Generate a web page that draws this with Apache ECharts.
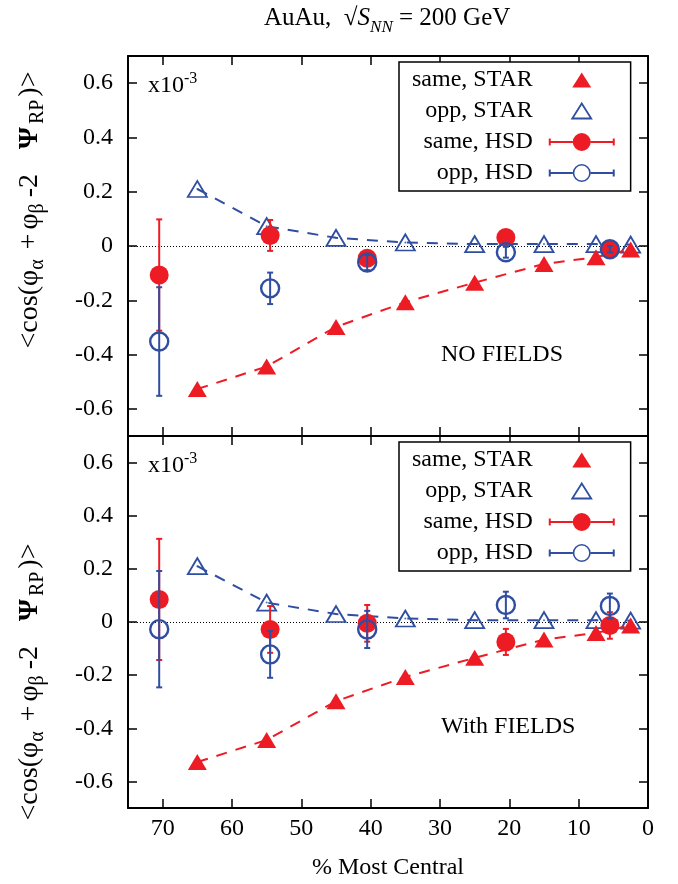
<!DOCTYPE html>
<html><head><meta charset="utf-8">
<script src="https://cdn.jsdelivr.net/npm/echarts@6/dist/echarts.min.js"></script>
<style>html,body{margin:0;padding:0;background:#fff}#c{width:678px;height:884px}</style>
</head><body><div id="c"></div>
<script>
// ---- data ----
const xTicks = [0, 10, 20, 30, 40, 50, 60, 70];
const yTicks = [-0.6, -0.4, -0.2, 0, 0.2, 0.4, 0.6];
const starX = [65, 55, 45, 35, 25, 15, 7.5, 2.5];
const starSame = [-0.527, -0.444, -0.298, -0.207, -0.135, -0.066, -0.041, -0.013];
const starOpp = [0.210, 0.073, 0.030, 0.013, 0.007, 0.007, 0.007, 0.005];
const hsdX = [70.5, 54.5, 40.5, 20.5, 5.5];
// panel 1: NO FIELDS
const hsdSameNoF = [-0.107, 0.039, -0.045, 0.031, -0.012];
const hsdSameNoFErr = [0.205, 0.057, 0.015, 0.008, 0.010];
const hsdOppNoF = [-0.352, -0.156, -0.061, -0.023, -0.012];
const hsdOppNoFErr = [0.200, 0.058, 0.028, 0.020, 0.012];
// panel 2: With FIELDS
const hsdSameF = [0.085, -0.028, -0.005, -0.075, -0.013];
const hsdSameFErr = [0.228, 0.088, 0.069, 0.049, 0.050];
const hsdOppF = [-0.027, -0.122, -0.028, 0.064, 0.060];
const hsdOppFErr = [0.219, 0.088, 0.070, 0.050, 0.047];
const panelLabels = ['NO FIELDS', 'With FIELDS'];

const FONT = '"Liberation Serif","Times New Roman",Times,serif';
const RED = '#ed1c24', BLUE = '#2f4ea1';
const CLEAR = 'rgba(0,0,0,0)';

function pts(xs, ys) { return xs.map((x, i) => [x, ys[i]]); }
function errs(xs, ys, es) { return xs.map((x, i) => [x, ys[i] - es[i], ys[i] + es[i]]); }

function errorSeries(name, gi, xs, ys, es, color, z) {
  return {
    type: 'custom', name, xAxisIndex: gi, yAxisIndex: gi, z, silent: true,
    data: errs(xs, ys, es), encode: { x: 0, y: [1, 2] },
    renderItem(params, api) {
      const x = api.value(0);
      const a = api.coord([x, api.value(1)]), b = api.coord([x, api.value(2)]);
      const w = 3;
      const st = () => ({ stroke: color, lineWidth: 2 });
      return { type: 'group', children: [
        { type: 'line', shape: { x1: a[0], y1: a[1], x2: b[0], y2: b[1] }, style: st() },
        { type: 'line', shape: { x1: a[0] - w, y1: a[1], x2: a[0] + w, y2: a[1] }, style: st() },
        { type: 'line', shape: { x1: b[0] - w, y1: b[1], x2: b[0] + w, y2: b[1] }, style: st() }
      ] };
    }
  };
}

function panelSeries(gi, sameY, sameE, oppY, oppE) {
  return [
    { type: 'line', name: 'opp, STAR', xAxisIndex: gi, yAxisIndex: gi, z: 2,
      data: pts(starX, starOpp), symbol: 'triangle', symbolSize: [19, 16],
      itemStyle: { color: CLEAR, borderColor: BLUE, borderWidth: 1.8 },
      lineStyle: { color: BLUE, width: 2, type: [11, 9] },
      markLine: { silent: true, symbol: 'none', z: 1, label: { show: false },
        lineStyle: { color: '#000', width: 1, type: [1, 2] }, data: [{ yAxis: 0 }] } },
    { type: 'scatter', name: 'opp, STAR', xAxisIndex: gi, yAxisIndex: gi, z: 2, silent: true,
      data: pts(starX, starOpp), symbol: 'circle', symbolSize: 2, itemStyle: { color: BLUE } },
    { type: 'line', name: 'same, STAR', xAxisIndex: gi, yAxisIndex: gi, z: 3,
      data: pts(starX, starSame), symbol: 'triangle', symbolSize: [19, 16],
      itemStyle: { color: RED, borderWidth: 0 },
      lineStyle: { color: RED, width: 2, type: [11, 9] } },
    { type: 'scatter', name: 'same, HSD', xAxisIndex: gi, yAxisIndex: gi, z: 5,
      data: pts(hsdX, sameY), symbol: 'circle', symbolSize: 19,
      itemStyle: { color: RED, borderWidth: 0, opacity: 1 } },
    { type: 'scatter', name: 'opp, HSD', xAxisIndex: gi, yAxisIndex: gi, z: 7,
      data: pts(hsdX, oppY), symbol: 'circle', symbolSize: 18,
      itemStyle: { color: CLEAR, borderColor: BLUE, borderWidth: 2.4, opacity: 1 } },
    errorSeries('same, HSD', gi, hsdX, sameY, sameE, RED, 4),
    errorSeries('opp, HSD', gi, hsdX, oppY, oppE, BLUE, 6)
  ];
}

const triPath = 'path://M0,0M66,18M33,1.5L42.5,16.5L23.5,16.5Z';
const barPath = 'M0,5.5L2,5.5L2,8L24,8L24,10L2,10L2,12.5L0,12.5Z M64,5.5L66,5.5L66,12.5L64,12.5L64,10L42,10L42,8L64,8Z ';
const hsdSamePath = 'path://' + barPath + 'M24,9A9 9 0 1 1 42,9A9 9 0 1 1 24,9Z';
const hsdOppPath = 'path://' + barPath + 'M24,9A9 9 0 1 1 42,9A9 9 0 1 1 24,9Z M25.6,9A7.4 7.4 0 1 0 40.4,9A7.4 7.4 0 1 0 25.6,9Z';

function legendAt(top) {
  return {
    left: 399, top, orient: 'vertical', align: 'right',
    itemWidth: 66, itemHeight: 18, itemGap: 7,
    padding: [6, 15, 6, 13], borderColor: '#000', borderWidth: 1.5, backgroundColor: '#fff',
    textStyle: { fontFamily: FONT, fontSize: 24, color: '#000', lineHeight: 24, padding: [0, 11, 0, 0] },
    data: [
      { name: 'same, STAR', icon: triPath, itemStyle: { color: RED, borderWidth: 0 } },
      { name: 'opp, STAR', icon: triPath, itemStyle: { color: CLEAR, borderColor: BLUE, borderWidth: 1.8 } },
      { name: 'same, HSD', icon: hsdSamePath, itemStyle: { color: RED, borderWidth: 0 } },
      { name: 'opp, HSD', icon: hsdOppPath, itemStyle: { color: BLUE, borderWidth: 0 } }
    ]
  };
}

const tickStyle = { color: '#000', width: 1.5 };
const lineSt = { color: '#000', width: 2 };
function xAxisDef(gi, pos, labels) {
  const ax = { type: 'value', gridIndex: gi, position: pos, min: 0, max: 75, inverse: true,
    axisLine: { show: true, onZero: false, lineStyle: lineSt },
    axisTick: { show: true, inside: true, length: 9, customValues: xTicks, lineStyle: tickStyle },
    axisLabel: { show: labels, customValues: xTicks, margin: 9, fontSize: 24, fontFamily: FONT, color: '#000' },
    splitLine: { show: false } };
  if (labels) {
    ax.name = '% Most Central'; ax.nameLocation = 'middle'; ax.nameGap = 48;
    ax.nameTextStyle = { fontSize: 24, fontFamily: FONT, color: '#000' };
  }
  return ax;
}
// y-axis title, split in groups so its loose gnuplot-like spacing can be reproduced
const yName = '{t|<cos(φ}{a|α}{p|+}{t|φ}{c|β}{t|-2}{w| }{b|Ψ}{r|RP}{t|)>}';
const yNameShift = [-36, 60];   // shift of each panel's title along the axis (px, + = down)
function yAxisDef(gi, pos, labels) {
  const ax = { type: 'value', gridIndex: gi, position: pos, min: -0.7, max: 0.7,
    axisLine: { show: true, onZero: false, lineStyle: lineSt },
    axisTick: { show: true, inside: true, length: 9, customValues: yTicks, lineStyle: tickStyle },
    axisLabel: { show: labels, customValues: yTicks, margin: 15, fontSize: 24, fontFamily: FONT, color: '#000',
      formatter: v => (Math.abs(v) < 1e-9 ? '0' : v.toFixed(1)) },
    splitLine: { show: false } };
  if (labels) {
    const d = yNameShift[gi];
    const base = { fontFamily: FONT, fontSize: 28, lineHeight: 36, color: '#000' };
    const sub = { fontFamily: FONT, fontSize: 20, lineHeight: 20, verticalAlign: 'bottom', color: '#000' };
    ax.name = yName; ax.nameLocation = 'middle'; ax.nameRotate = 90; ax.nameGap = 80;
    ax.nameTextStyle = { fontFamily: FONT, color: '#000',
      padding: d < 0 ? [0, 0, 0, -2 * d] : [0, 2 * d, 0, 0],
      rich: {
        t: base,
        p: Object.assign({}, base, { padding: [0, 4, 0, 0] }),
        w: Object.assign({}, base, { padding: [0, 18, 0, 0] }),
        b: Object.assign({}, base, { fontWeight: 'bold', padding: [0, 3, 0, 0] }),
        a: Object.assign({}, sub, { padding: [0, 10, 0, 0] }),
        c: Object.assign({}, sub, { padding: [0, 6, 0, 0] }),
        r: Object.assign({}, sub, { padding: [0, 3, 0, 0] }) } };
  }
  return ax;
}

function sci(top) {
  return { type: 'text', left: 148, top, z: 10, style: { text: '{a|x10}{b|-3}', rich: {
    a: { fontFamily: FONT, fontSize: 24, lineHeight: 30, fill: '#000' },
    b: { fontFamily: FONT, fontSize: 16, lineHeight: 16, verticalAlign: 'top', fill: '#000' } } } };
}
function note(text, top) {
  return { type: 'text', left: 441, top, z: 10, style: { text, fontFamily: FONT, fontSize: 24, lineHeight: 24, fill: '#000' } };
}

const option = {
  animation: false,
  backgroundColor: '#fff',
  title: { text: '{n|AuAu,  √}{i|S}{s|NN}{n| = 200 GeV}', left: 264, top: 0, padding: 0,
    textStyle: { fontFamily: FONT, fontWeight: 'normal', fontSize: 25, color: '#000', rich: {
      n: { fontFamily: FONT, fontWeight: 'normal', fontSize: 25, lineHeight: 36, color: '#000' },
      i: { fontFamily: FONT, fontWeight: 'normal', fontStyle: 'italic', fontSize: 25, lineHeight: 36, color: '#000' },
      s: { fontFamily: FONT, fontWeight: 'normal', fontStyle: 'italic', fontSize: 17, lineHeight: 17, verticalAlign: 'bottom', color: '#000' } } } },
  grid: [
    { left: 128, top: 56, width: 520, height: 380 },
    { left: 128, top: 436, width: 520, height: 372 }
  ],
  xAxis: [xAxisDef(0, 'bottom', false), xAxisDef(1, 'bottom', true), xAxisDef(0, 'top', false), xAxisDef(1, 'top', false)],
  yAxis: [yAxisDef(0, 'left', true), yAxisDef(1, 'left', true), yAxisDef(0, 'right', false), yAxisDef(1, 'right', false)],
  legend: [legendAt(62), legendAt(442)],
  graphic: [sci(71), sci(451), note(panelLabels[0], 343), note(panelLabels[1], 715)],
  series: [].concat(
    panelSeries(0, hsdSameNoF, hsdSameNoFErr, hsdOppNoF, hsdOppNoFErr),
    panelSeries(1, hsdSameF, hsdSameFErr, hsdOppF, hsdOppFErr))
};

const chart = echarts.init(document.getElementById('c'));
chart.setOption(option);
</script>
</body></html>
